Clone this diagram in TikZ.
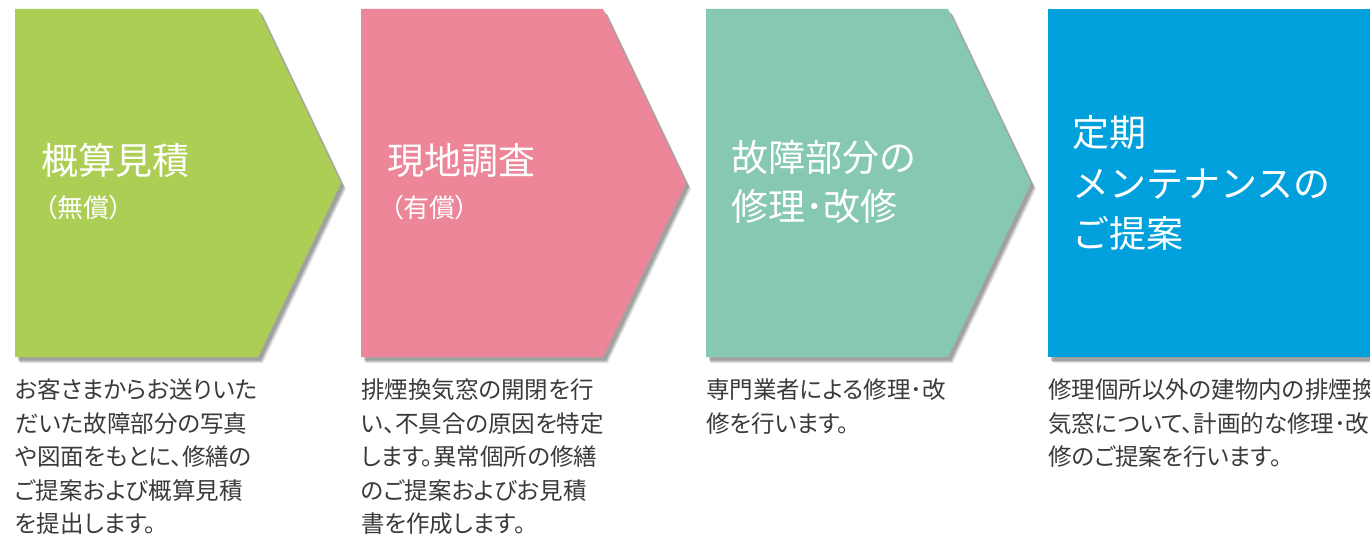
\documentclass[tikz,border=0pt]{standalone}
\usepackage{fontspec}
\newfontfamily\jpfont{Noto Sans CJK JP}
\newfontfamily\jpfontp[RawFeature=+palt]{Noto Sans CJK JP}
\usetikzlibrary{shadows}

\definecolor{stepgreen}{HTML}{ADCE54}
\definecolor{steppink}{HTML}{EC8698}
\definecolor{stepteal}{HTML}{87C8B1}
\definecolor{stepblue}{HTML}{00A0DC}
\definecolor{descgray}{HTML}{3A3A3A}

\tikzset{
    chevron/.style={fill=#1, draw=none,
        drop shadow={shadow xshift=5pt, shadow yshift=-6pt, opacity=0.12, fill=black!80},
        drop shadow={shadow xshift=4pt, shadow yshift=-5pt, opacity=0.18, fill=black!80},
        drop shadow={shadow xshift=3pt, shadow yshift=-3.5pt, opacity=0.25, fill=black!80}},
    titletext/.style={anchor=base west, inner sep=0pt, text=white,
        font=\jpfont\fontsize{37}{37}\selectfont},
    subtext/.style={anchor=base west, inner sep=0pt, text=white,
        font=\jpfontp\fontsize{26}{26}\selectfont},
    desctext/.style={anchor=north west, inner sep=0pt, align=left, text=descgray,
        font=\jpfontp\fontsize{23.5}{33.5}\selectfont},
}

\begin{document}
\begin{tikzpicture}[x=1pt, y=-1pt]
    \useasboundingbox (0,0) rectangle (1370,540);

    % Bước 1: 概算見積
    \path[chevron=stepgreen] (15,9) -- (258,9) -- (341,183) -- (258,357) -- (15,357) -- cycle;
    \node[titletext] (tit1) at (41,175) {概算見積};
    \node[subtext] (sub1) at (44,218) {（無償）};
    \node[desctext] (desc1) at (15,379) {お客さまからお送りいた\\だいた故障部分の写真\\や図面をもとに、修繕の\\ご提案および概算見積\\を提出します。};

    % Bước 2: 現地調査
    \path[chevron=steppink] (361,9) -- (603,9) -- (686,183) -- (603,357) -- (361,357) -- cycle;
    \node[titletext] (tit2) at (387,175) {現地調査};
    \node[subtext] (sub2) at (390,218) {（有償）};
    \node[desctext] (desc2) at (361,379) {排煙換気窓の開閉を行\\い、不具合の原因を特定\\します。異常個所の修繕\\のご提案およびお見積\\書を作成します。};

    % Bước 3: 修理・改修
    \path[chevron=stepteal] (706,9) -- (948,9) -- (1031,183) -- (948,357) -- (706,357) -- cycle;
    \node[titletext] (tit3) at (731,172) {故障部分の};
    \node[titletext] (tit3b) at (731,221) {修理･改修};
    \node[desctext] (desc3) at (706,379) {専門業者による修理･改\\修を行います。};

    % Bước 4: 定期メンテナンス
    \path[chevron=stepblue] (1048,9) rectangle (1380,357);
    \node[titletext] (tit4) at (1072,147) {定期};
    \node[titletext] (tit4b) at (1072,197) {メンテナンスの};
    \node[titletext] (tit4c) at (1072,247) {ご提案};
    \node[desctext] (desc4) at (1048,379) {修理個所以外の建物内の排煙換\\気窓について、計画的な修理･改\\修のご提案を行います。};

\end{tikzpicture}
\end{document}
